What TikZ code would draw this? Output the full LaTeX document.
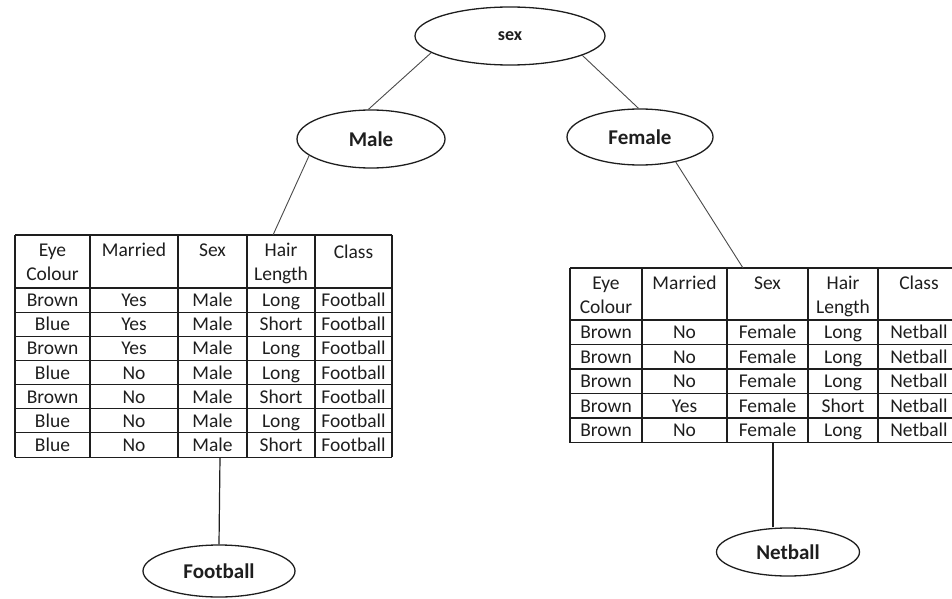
\documentclass[tikz,border=0pt]{standalone}
\usepackage{fontspec}
\setmainfont{Carlito}
\usetikzlibrary{shapes.geometric}
\definecolor{ink}{HTML}{1E1E1E}
\definecolor{wire}{HTML}{4A4A4A}
\begin{document}
\begin{tikzpicture}[x=1pt,y=-1pt,
  oval/.style={ellipse, draw=ink, line width=1.3pt, inner sep=0pt, text=ink,
    font=\fontsize{21}{21}\selectfont\bfseries},
  cell/.style={inner sep=0pt, anchor=base, text=ink,
    font=\fontsize{19.5}{24}\selectfont},
  headcell/.style={inner sep=0pt, anchor=north, align=center, text=ink,
    font=\fontsize{19.5}{24}\selectfont},
  rule/.style={draw=ink, line width=1.1pt},
  link/.style={draw=wire, line width=0.9pt},
  stem/.style={draw=ink, line width=1.2pt}]
\useasboundingbox (0,0) rectangle (952,599);

% decision nodes
\node[oval, minimum width=190, minimum height=58,
  font=\fontsize{18}{18}\selectfont\bfseries] (sex) at (510,36) {sex};
\node[oval, minimum width=148, minimum height=58] (male) at (371,139) {Male};
\node[oval, minimum width=146, minimum height=56] (female) at (640,137) {Female};
\node[oval, minimum width=152, minimum height=52] (football) at (219,571) {Football};
\node[oval, minimum width=143, minimum height=48] (netball) at (788,552) {Netball};

% ---- table under "Male" ----
\foreach \y in {235,288} \draw[rule] (15,\y) -- (392,\y);
\foreach \k in {1,...,7} \draw[rule] (15,{288+\k*24.15}) -- (392,{288+\k*24.15});
\foreach \x in {15,90,178,247,315,392} \draw[rule] (\x,235) -- (\x,457.05);

\node[headcell] (L-0-1) at (52.5,239) {\strut Eye\\\strut Colour};
\node[headcell] (L-0-2) at (134,239) {\strut Married};
\node[headcell] (L-0-3) at (212.5,239) {\strut Sex};
\node[headcell] (L-0-4) at (281,239) {\strut Hair\\\strut Length};
\node[headcell] (L-0-5) at (353.5,241) {\strut Class};

\foreach \a/\b/\c/\d/\e [count=\i] in {
  Brown/Yes/Male/Long/Football,
  Blue/Yes/Male/Short/Football,
  Brown/Yes/Male/Long/Football,
  Blue/No/Male/Long/Football,
  Brown/No/Male/Short/Football,
  Blue/No/Male/Long/Football,
  Blue/No/Male/Short/Football}{
  \pgfmathsetmacro{\yb}{288+(\i-0.5)*24.15+6.6}
  \node[cell] (L-\i-1) at (52.5,\yb) {\a};
  \node[cell] (L-\i-2) at (134,\yb) {\b};
  \node[cell] (L-\i-3) at (212.5,\yb) {\c};
  \node[cell] (L-\i-4) at (281,\yb) {\d};
  \node[cell] (L-\i-5) at (353.5,\yb) {\e};
}

% ---- table under "Female" ----
\foreach \y in {268,320} \draw[rule] (570,\y) -- (960,\y);
\foreach \k in {1,...,5} \draw[rule] (570,{320+\k*24.5}) -- (960,{320+\k*24.5});
\foreach \x in {570,642,727,808,878,960} \draw[rule] (\x,268) -- (\x,442.5);

\node[headcell] (R-0-1) at (606,272) {\strut Eye\\\strut Colour};
\node[headcell] (R-0-2) at (684.5,272) {\strut Married};
\node[headcell] (R-0-3) at (767.5,272) {\strut Sex};
\node[headcell] (R-0-4) at (843,272) {\strut Hair\\\strut Length};
\node[headcell] (R-0-5) at (919,272) {\strut Class};

\foreach \a/\b/\c/\d/\e [count=\i] in {
  Brown/No/Female/Long/Netball,
  Brown/No/Female/Long/Netball,
  Brown/No/Female/Long/Netball,
  Brown/Yes/Female/Short/Netball,
  Brown/No/Female/Long/Netball}{
  \pgfmathsetmacro{\yb}{320+(\i-0.5)*24.5+6.6}
  \node[cell] (R-\i-1) at (606,\yb) {\a};
  \node[cell] (R-\i-2) at (684.5,\yb) {\b};
  \node[cell] (R-\i-3) at (767.5,\yb) {\c};
  \node[cell] (R-\i-4) at (843,\yb) {\d};
  \node[cell] (R-\i-5) at (919,\yb) {\e};
}

% attachment points on the table edges
\coordinate (ltop) at (273,235);
\coordinate (lbot) at (220,457.05);
\coordinate (rtop) at (743,268);
\coordinate (rbot) at (773,442.5);

% branches
\draw[link] (sex.-168) -- (male.95);
\draw[link] (sex.-15) -- (female.93);
\draw[link] (male.-165) -- (ltop);
\draw[link] (female.-35) -- (rtop);
\draw[stem] (lbot) -- (football.north);
\draw[stem] (rbot) -- (rbot |- netball.north);
\end{tikzpicture}
\end{document}
